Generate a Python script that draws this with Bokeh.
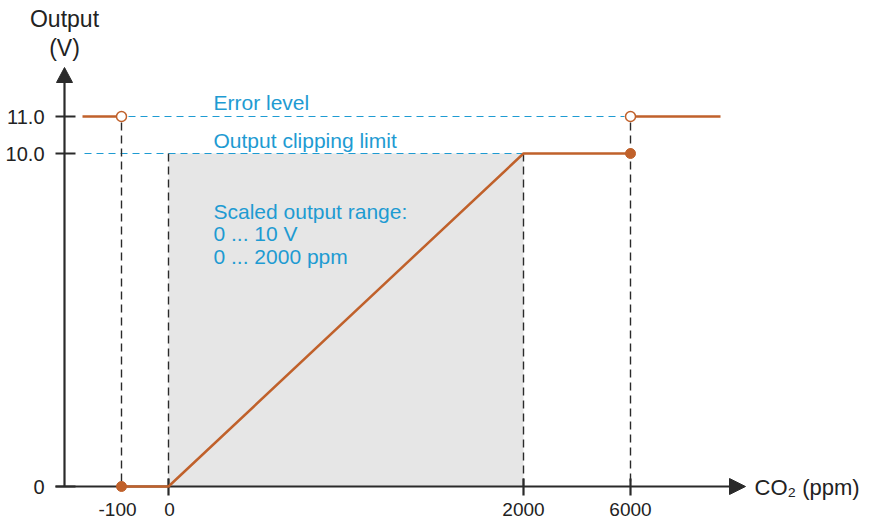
import numpy as np
from bokeh.plotting import figure
from bokeh.models import Range1d
from bokeh.embed import file_html
from bokeh.resources import INLINE
from bokeh.core.properties import value

# ---------------- data ----------------
co2_ticks = [-100, 0, 2000, 6000]
co2_tick_labels = ["-100", "0", "2000", "6000"]
volt_ticks = [0.0, 10.0, 11.0]
volt_tick_labels = ["0", "10.0", "11.0"]
curve_co2 = [-100, 0, 2000, 6000]
curve_volt = [0.0, 0.0, 10.0, 10.0]
error_level = 11.0
clip_limit = 10.0
error_points_co2 = [-100, 6000]
scaled_co2 = [0, 2000]
scaled_volt = [0.0, 10.0]
annot_lines = ["Scaled output range:", "0 ... 10 V", "0 ... 2000 ppm"]

# ---------------- layout (schematic, non-linear axis) ----------------
W, H = 866, 520
X_KNOTS = [121, 168, 523, 630]      # screen positions of co2 ticks
Y_KNOTS = [486, 153, 116]           # screen positions of volt ticks
AX_X0 = 64                          # y axis position
AX_Y0 = Y_KNOTS[0]                  # x axis position
ERR_LEFT, ERR_RIGHT = 82, 720       # schematic extent of error segments
FONT = value("Liberation Sans")
ORANGE = "#c0612b"
BLUE = "#1e9bd2"
DARK = "#2a2a2a"
TXT = "#222222"


def fx(v):
    return np.interp(v, co2_ticks, X_KNOTS)


def fy(v):
    return np.interp(v, volt_ticks, Y_KNOTS)


p = figure(width=W, height=H, x_range=Range1d(0, W), y_range=Range1d(H, 0),
           output_backend="svg", toolbar_location=None, min_border=0,
           x_axis_type=None, y_axis_type=None, outline_line_color=None)
p.background_fill_color = "white"

# shaded scaled range
p.quad(left=[fx(scaled_co2[0])], right=[fx(scaled_co2[1])],
       bottom=[fy(scaled_volt[0])], top=[fy(scaled_volt[1])],
       fill_color="#e6e6e6", line_color=None)

# blue dashed reference lines
p.segment(x0=[fx(error_points_co2[0]) + 7], y0=[fy(error_level)],
          x1=[fx(error_points_co2[1]) - 6], y1=[fy(error_level)],
          line_color=BLUE, line_width=1.2, line_dash="7 5")
p.segment(x0=[AX_X0 + 20], y0=[fy(clip_limit)], x1=[fx(2000)], y1=[fy(clip_limit)],
          line_color=BLUE, line_width=1.2, line_dash="7 5")

# black dashed verticals
vx = [fx(-100), fx(0), fx(2000), fx(6000)]
vtop = [fy(error_level) + 6, fy(clip_limit), fy(clip_limit), fy(error_level) + 6]
p.segment(x0=vx, y0=vtop, x1=vx, y1=[AX_Y0] * 4,
          line_color=DARK, line_width=1.4, line_dash="8 5")

# axes
p.segment(x0=[AX_X0], y0=[AX_Y0], x1=[AX_X0], y1=[80], line_color=DARK, line_width=2.2)
p.patch(x=[AX_X0 - 8, AX_X0 + 8, AX_X0], y=[82, 82, 67], fill_color=DARK, line_color=DARK)
p.segment(x0=[55], y0=[AX_Y0], x1=[732], y1=[AX_Y0], line_color=DARK, line_width=2.2)
p.patch(x=[729, 729, 745], y=[AX_Y0 - 8, AX_Y0 + 8, AX_Y0], fill_color=DARK, line_color=DARK)

# y ticks
yt = [fy(v) for v in volt_ticks]
p.segment(x0=[55] * 3, y0=yt, x1=[75] * 3, y1=yt, line_color=DARK, line_width=2.2)
p.text(x=[44] * 3, y=yt, text=volt_tick_labels, text_font=FONT, text_font_size="20px",
       text_align="right", text_baseline="middle", text_color=TXT)

# x ticks
xt = [fx(v) for v in co2_ticks[1:]]
p.segment(x0=xt, y0=[AX_Y0 - 8] * 3, x1=xt, y1=[AX_Y0 + 9] * 3, line_color=DARK, line_width=2.2)
p.text(x=[fx(v) for v in co2_ticks], y=[AX_Y0 + 23] * 4, text=co2_tick_labels,
       text_font=FONT, text_font_size="19px", text_align="center",
       text_baseline="middle", text_color=TXT, x_offset=[-4, 1, 0, 0])

# axis titles
p.text(x=[AX_X0, AX_X0], y=[18, 47], text=["Output", "(V)"], text_font=FONT,
       text_font_size="23px", text_align="center", text_baseline="middle",
       text_color=TXT)
p.text(x=[754], y=[AX_Y0 + 1], text=["CO₂ (ppm)"], text_font=FONT, text_font_size="22px",
       text_align="left", text_baseline="middle", text_color=TXT)

# characteristic curve
p.line(x=[fx(v) for v in curve_co2], y=[fy(v) for v in curve_volt],
       line_color=ORANGE, line_width=2.5)
p.segment(x0=[ERR_LEFT, fx(error_points_co2[1])], y0=[fy(error_level)] * 2,
          x1=[fx(error_points_co2[0]), ERR_RIGHT], y1=[fy(error_level)] * 2,
          line_color=ORANGE, line_width=2.5)
p.scatter(x=[fx(curve_co2[0]), fx(curve_co2[-1])], y=[fy(curve_volt[0]), fy(curve_volt[-1])],
          size=10, fill_color=ORANGE, line_color=ORANGE)
p.scatter(x=[fx(v) for v in error_points_co2], y=[fy(error_level)] * 2,
          size=10, fill_color="white", line_color=ORANGE, line_width=1.5)

# blue annotations
p.text(x=[213, 213], y=[fy(error_level) - 14, fy(clip_limit) - 13],
       text=["Error level", "Output clipping limit"], text_font=FONT, text_font_size="21px",
       text_align="left", text_baseline="middle", text_color=BLUE)
p.text(x=[213] * 3, y=[210.5, 233, 255.5], text=annot_lines, text_font=FONT,
       text_font_size="21px", text_align="left", text_baseline="middle", text_color=BLUE)

open("out.html", "w").write(file_html(p, INLINE))
